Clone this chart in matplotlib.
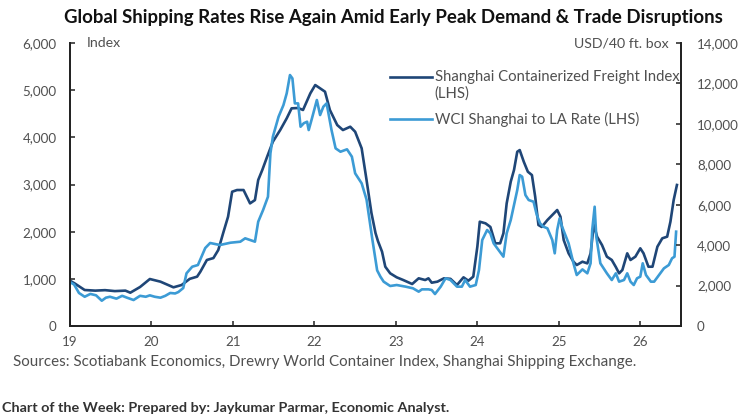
import matplotlib
matplotlib.use("Agg")
import matplotlib.pyplot as plt
from matplotlib.ticker import FuncFormatter

plt.rcParams['font.family'] = ['Lato', 'DejaVu Sans']

# Shanghai Containerized Freight Index (decimal year, index)
scfi_t = [2019.00, 2019.06, 2019.18, 2019.31, 2019.43, 2019.55, 2019.68, 2019.74, 2019.86, 2019.98,
          2020.11, 2020.27, 2020.37, 2020.47, 2020.56, 2020.60, 2020.68, 2020.76, 2020.82, 2020.88,
          2020.94, 2020.99, 2021.05, 2021.13, 2021.21, 2021.27, 2021.31, 2021.36, 2021.42, 2021.49,
          2021.58, 2021.66, 2021.72, 2021.80, 2021.86, 2021.95, 2022.01, 2022.07, 2022.13, 2022.19,
          2022.28, 2022.35, 2022.44, 2022.50, 2022.58, 2022.64, 2022.70, 2022.75, 2022.78, 2022.83,
          2022.87, 2022.93, 2023.01, 2023.09, 2023.20, 2023.28, 2023.36, 2023.40, 2023.44, 2023.51,
          2023.59, 2023.67, 2023.75, 2023.83, 2023.89, 2023.95, 2024.00, 2024.03, 2024.10, 2024.16,
          2024.22, 2024.28, 2024.32, 2024.36, 2024.41, 2024.45, 2024.49, 2024.52, 2024.57, 2024.62,
          2024.67, 2024.71, 2024.75, 2024.79, 2024.86, 2024.92, 2024.98, 2025.02, 2025.06, 2025.12,
          2025.18, 2025.22, 2025.29, 2025.35, 2025.39, 2025.43, 2025.47, 2025.53, 2025.59, 2025.65,
          2025.70, 2025.74, 2025.78, 2025.84, 2025.88, 2025.94, 2026.00, 2026.04, 2026.10, 2026.15,
          2026.21, 2026.27, 2026.33, 2026.37, 2026.41, 2026.45]
scfi = [960, 900, 763, 750, 760, 740, 750, 706, 827, 996,
        940, 820, 869, 1000, 1046, 1151, 1400, 1440, 1611, 1970,
        2317, 2847, 2883, 2883, 2600, 2670, 3095, 3307, 3590, 3907,
        4155, 4403, 4615, 4622, 4580, 4933, 5109, 5039, 4968, 4580,
        4261, 4155, 4225, 4119, 3767, 3095, 2396, 1970, 1800, 1576,
        1257, 1117, 1032, 975, 890, 1011, 975, 1011, 918, 940,
        1011, 1000, 869, 1032, 960, 1046, 1681, 2211, 2177, 2100,
        1753, 1753, 1965, 2600, 3060, 3307, 3695, 3730, 3483, 3271,
        3200, 2741, 2141, 2100, 2247, 2353, 2459, 2318, 1823, 1541,
        1363, 1293, 1363, 1328, 1541, 2150, 1893, 1717, 1470, 1400,
        1250, 1117, 1187, 1541, 1400, 1470, 1647, 1541, 1257, 1257,
        1681, 1859, 1894, 2211, 2671, 2990]

# WCI Shanghai to LA rate (decimal year, plotted on LHS scale)
wci_t = [2019.00, 2019.05, 2019.11, 2019.18, 2019.25, 2019.32, 2019.39, 2019.44, 2019.49, 2019.57,
         2019.64, 2019.70, 2019.78, 2019.86, 2019.93, 2019.98, 2020.04, 2020.11, 2020.17, 2020.23,
         2020.29, 2020.33, 2020.39, 2020.43, 2020.50, 2020.57, 2020.66, 2020.72, 2020.84, 2020.97,
         2021.09, 2021.15, 2021.21, 2021.27, 2021.31, 2021.37, 2021.43, 2021.46, 2021.49, 2021.56,
         2021.62, 2021.66, 2021.70, 2021.73, 2021.76, 2021.80, 2021.83, 2021.87, 2021.91, 2021.93,
         2021.97, 2022.03, 2022.07, 2022.11, 2022.15, 2022.21, 2022.26, 2022.32, 2022.40, 2022.46,
         2022.50, 2022.58, 2022.64, 2022.71, 2022.77, 2022.81, 2022.85, 2022.93, 2023.01, 2023.12,
         2023.21, 2023.28, 2023.32, 2023.40, 2023.44, 2023.48, 2023.55, 2023.61, 2023.67, 2023.75,
         2023.81, 2023.85, 2023.91, 2023.98, 2024.02, 2024.06, 2024.12, 2024.16, 2024.20, 2024.26,
         2024.32, 2024.36, 2024.41, 2024.45, 2024.49, 2024.52, 2024.55, 2024.59, 2024.63, 2024.69,
         2024.73, 2024.77, 2024.81, 2024.86, 2024.92, 2024.95, 2024.98, 2025.01, 2025.04, 2025.08,
         2025.12, 2025.18, 2025.22, 2025.29, 2025.35, 2025.39, 2025.41, 2025.44, 2025.46, 2025.51,
         2025.59, 2025.65, 2025.70, 2025.74, 2025.80, 2025.84, 2025.88, 2025.92, 2025.96, 2026.00,
         2026.03, 2026.07, 2026.13, 2026.17, 2026.23, 2026.29, 2026.35, 2026.39, 2026.42, 2026.44]
wci = [930, 880, 700, 620, 680, 650, 536, 600, 620, 580,
       640, 600, 551, 640, 620, 650, 620, 600, 640, 700,
       690, 720, 805, 1117, 1257, 1293, 1653, 1760, 1717, 1766,
       1787, 1859, 1823, 1788, 2211, 2459, 2741, 3661, 4013, 4437,
       4685, 4933, 5321, 5250, 4720, 4720, 4225, 4300, 4331, 4155,
       4403, 4791, 4473, 4650, 4720, 4155, 3767, 3695, 3746, 3590,
       3237, 3025, 2680, 1850, 1180, 1046, 940, 848, 869, 834,
       799, 728, 777, 777, 763, 678, 834, 1011, 975, 834,
       834, 975, 834, 869, 1187, 1823, 2035, 1965, 1753, 1611,
       1470, 1965, 2247, 2565, 2883, 3201, 3166, 2777, 2671, 2635,
       2353, 2177, 2106, 2071, 1823, 1541, 2035, 2283, 2106, 1929,
       1753, 1329, 1081, 1200, 1117, 1329, 2035, 2529, 1893, 1329,
       1117, 975, 1117, 940, 975, 1117, 940, 869, 1011, 1046,
       1329, 1081, 940, 940, 1081, 1222, 1293, 1435, 1470, 2000]

year_ticks = [2019, 2020, 2021, 2022, 2023, 2024, 2025, 2026]
year_labels = ['19', '20', '21', '22', '23', '24', '25', '26']

navy = '#1f4677'
light = '#3c9bd5'
grey = '#505050'

fig = plt.figure(figsize=(7.52, 4.18), dpi=100)
ax = fig.add_axes([0.0931, 0.2201, 0.8125, 0.677])

ax.plot(scfi_t, scfi, color=navy, lw=1.9)
ax.plot(wci_t, wci, color=light, lw=1.9)

ax.set_xlim(2019, 2026.5)
ax.set_ylim(0, 6000)
ax.set_xticks(year_ticks)
ax.set_xticklabels(year_labels)
ax.set_yticks(range(0, 6001, 1000))
fmt = FuncFormatter(lambda v, p: f'{int(v):,}')
ax.yaxis.set_major_formatter(fmt)

ax2 = ax.twinx()
ax2.set_ylim(0, 14000)
ax2.set_yticks(range(0, 14001, 2000))
ax2.yaxis.set_major_formatter(fmt)

for a in (ax, ax2):
    a.spines['top'].set_visible(False)
    for s in ('left', 'right', 'bottom'):
        a.spines[s].set_linewidth(1.3)
        a.spines[s].set_color('#222222')
    a.tick_params(direction='in', length=3.5, width=1.1, color='#222222',
                  labelsize=9.6, labelcolor=grey)
ax.tick_params(axis='y', pad=9.5)
ax.tick_params(axis='x', pad=7)
ax2.tick_params(axis='y', pad=11.5)

ax.text(0.027, 1.0, 'Index', transform=ax.transAxes, ha='left', va='center',
        fontsize=10.2, color=grey)
ax.text(0.98, 1.0, 'USD/40 ft. box', transform=ax.transAxes, ha='right', va='center',
        fontsize=10.2, color=grey)

# legend drawn by hand so the swatch sits on the first text line
legend_items = [('Shanghai Containerized Freight Index', navy, 0.880),
                ('WCI Shanghai to LA Rate (LHS)', light, 0.731)]
for label, col, yy in legend_items:
    ax.plot([0.524, 0.592], [yy, yy], transform=ax.transAxes, color=col, lw=1.9)
    ax.text(0.597, yy, label, transform=ax.transAxes, ha='left', va='center',
            fontsize=10.7, color=grey)
ax.text(0.597, 0.820, '(LHS)', transform=ax.transAxes, ha='left', va='center',
        fontsize=10.7, color=grey)

fig.text(0.5226, 0.957, 'Global Shipping Rates Rise Again Amid Early Peak Demand & Trade Disruptions',
         ha='center', va='center', fontsize=13.4, fontweight='bold', color='#111111')
fig.text(0.017, 0.134, 'Sources: Scotiabank Economics, Drewry World Container Index, Shanghai Shipping Exchange.',
         ha='left', va='center', fontsize=10.9, color=grey)
fig.text(0.003, 0.024, 'Chart of the Week: Prepared by: Jaykumar Parmar, Economic Analyst.',
         ha='left', va='center', fontsize=10.4, fontweight='bold', color='#333333')

fig.savefig('out.png', dpi=100)
